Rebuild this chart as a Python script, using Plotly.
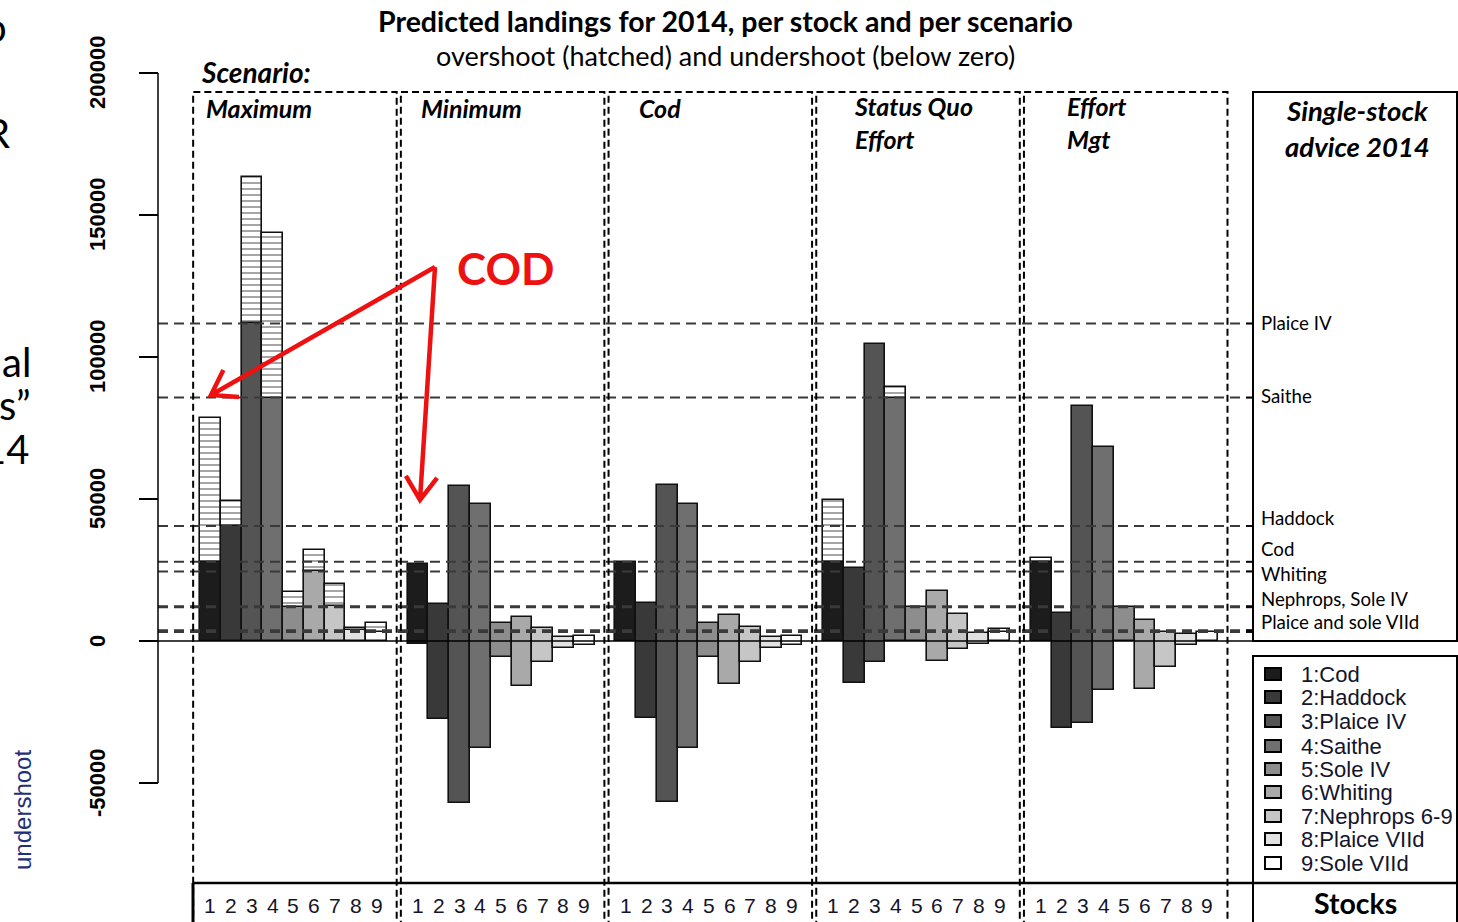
import math
import plotly.graph_objects as go

# ---------------- data (tonnes) ----------------
stock_ids = ["1", "2", "3", "4", "5", "6", "7", "8", "9"]
stock_names = ["Cod", "Haddock", "Plaice IV", "Saithe", "Sole IV", "Whiting",
               "Nephrops 6-9", "Plaice VIId", "Sole VIId"]
stock_grays = ["#1c1c1c", "#393939", "#545454", "#6f6f6f", "#8d8d8d",
               "#a9a9a9", "#c6c6c6", "#e2e2e2", "#ffffff"]

# single-stock advice 2014
advice_2014 = [27900, 40500, 111800, 85700, 11900, 24500, 12200, 3800, 3200]

scenario_names = ["Maximum", "Minimum", "Cod", "Status Quo<br>Effort", "Effort<br>Mgt"]
landings_maximum = [78400, 49400, 163400, 143500, 17300, 32000, 20200, 4600, 6200]
landings_minimum = [27000, 12900, 54600, 48100, 6400, 8600, 4700, 1500, 1900]
landings_cod = [27900, 13400, 55000, 48100, 6300, 9200, 4800, 1500, 1900]
landings_status_quo = [49600, 25800, 104500, 89300, 11900, 17500, 9500, 2800, 4200]
landings_effort_mgt = [29100, 9700, 82900, 68300, 11900, 7500, 3100, 2500, 3200]
scenario_landings = [landings_maximum, landings_minimum, landings_cod,
                     landings_status_quo, landings_effort_mgt]

advice_line_labels = ["Plaice IV", "Saithe", "Haddock", "Cod", "Whiting",
                      "Nephrops, Sole IV", "Plaice and sole VIId"]
y_tick_values = [-50000, 0, 50000, 100000, 150000, 200000]

# ---------------- page geometry ----------------
W, H = 1458, 922
PX_PER_SLOT = 20.77          # one stock slot on the x axis
FIRST_BAR_LEFT = 200         # left edge of first bar
ZERO_PX = 641                # y pixel of zero landings
PX_PER_TONNE = 0.00284

x0 = 0.5 - FIRST_BAR_LEFT / PX_PER_SLOT
x_range = [x0, x0 + W / PX_PER_SLOT]
y_range = [-(H - ZERO_PX) / PX_PER_TONNE, ZERO_PX / PX_PER_TONNE]


def px(x):
    return x / W


def py(y):
    return 1 - y / H


GROUP = 10  # slots per scenario block (9 stocks + gap)

fig = go.Figure()

# landed part (up to advice) plus undershoot below zero, one trace per stock
for i, name in enumerate(stock_names):
    xs, bases, heights = [], [], []
    for g, land in enumerate(scenario_landings):
        v, adv = land[i], advice_2014[i]
        under = max(adv - v, 0)
        xs.append(GROUP * g + i + 1)
        bases.append(-under)
        heights.append(min(v, adv) + under)
    fig.add_trace(go.Bar(
        x=xs, y=heights, base=bases, width=1, name=f"{stock_ids[i]}:{name}",
        marker=dict(color=stock_grays[i], line=dict(color="#111111", width=1.6)),
        showlegend=False, hoverinfo="skip"))

# overshoot above advice, hatched
hx, hb, hh = [], [], []
for g, land in enumerate(scenario_landings):
    for i, v in enumerate(land):
        adv = advice_2014[i]
        if v > adv:
            hx.append(GROUP * g + i + 1)
            hb.append(adv)
            hh.append(v - adv)
fig.add_trace(go.Bar(
    x=hx, y=hh, base=hb, width=1, showlegend=False, hoverinfo="skip",
    marker=dict(color="white", line=dict(color="#111111", width=1.6),
                pattern=dict(shape="-", fgcolor="#111111", bgcolor="white",
                             size=6, solidity=0.25))))

shapes = []
# advice reference lines
for adv in advice_2014:
    shapes.append(dict(type="line", xref="paper", yref="y", x0=px(158), x1=px(1253),
                       y0=adv, y1=adv, layer="above",
                       line=dict(color="#3a3a3a", width=2, dash="10px,6px")))
    shapes.append(dict(type="line", xref="paper", yref="y", x0=px(1246), x1=px(1253),
                       y0=adv, y1=adv, layer="above", line=dict(color="black", width=1.5)))
# zero line
shapes.append(dict(type="line", xref="paper", yref="y", x0=px(139), x1=px(1253),
                   y0=0, y1=0, layer="above", line=dict(color="black", width=1.5)))
# y axis line
shapes.append(dict(type="line", xref="paper", yref="y", x0=px(158), x1=px(158),
                   y0=y_tick_values[0], y1=y_tick_values[-1], layer="above",
                   line=dict(color="black", width=1.5)))
# scenario blocks
for g in range(len(scenario_names)):
    shapes.append(dict(type="rect", xref="x", yref="paper",
                       x0=GROUP * g + 0.17, x1=GROUP * g + 9.97, y0=-0.05, y1=py(92),
                       layer="above", line=dict(color="black", width=2, dash="7px,4px")))
# advice panel, legend panel and bottom strip
shapes += [
    dict(type="rect", xref="paper", yref="paper", x0=px(1253), x1=px(1457),
         y0=py(641), y1=py(92), layer="above", line=dict(color="black", width=2)),
    dict(type="rect", xref="paper", yref="paper", x0=px(1253), x1=px(1457),
         y0=py(883), y1=py(656), layer="above", line=dict(color="black", width=2)),
    dict(type="line", xref="paper", yref="paper", x0=px(193), x1=px(1458),
         y0=py(883), y1=py(883), layer="above", line=dict(color="black", width=2.5)),
    dict(type="line", xref="paper", yref="paper", x0=px(193), x1=px(193),
         y0=py(883), y1=py(922), layer="above", line=dict(color="black", width=3)),
    dict(type="line", xref="paper", yref="paper", x0=px(1253), x1=px(1253),
         y0=py(883), y1=py(922), layer="above", line=dict(color="black", width=2)),
    dict(type="line", xref="paper", yref="paper", x0=px(1457), x1=px(1457),
         y0=py(883), y1=py(922), layer="above", line=dict(color="black", width=2)),
]

# legend swatches
legend_rows = [674, 697, 721, 746, 769, 792, 816, 839, 863]
for i, yy in enumerate(legend_rows):
    shapes.append(dict(type="rect", xref="paper", yref="paper",
                       x0=px(1265), x1=px(1281), y0=py(yy + 6), y1=py(yy - 6),
                       fillcolor=stock_grays[i], layer="above",
                       line=dict(color="black", width=2)))


# red call-out arrows
def arrow_path(tail, tip, arm=30, ang=32):
    dx, dy = tail[0] - tip[0], tail[1] - tip[1]
    n = math.hypot(dx, dy)
    ux, uy = dx / n, dy / n
    pts = []
    for s in (1, -1):
        a = math.radians(ang * s)
        rx = ux * math.cos(a) - uy * math.sin(a)
        ry = ux * math.sin(a) + uy * math.cos(a)
        pts.append((tip[0] + arm * rx, tip[1] + arm * ry))
    f = lambda p: f"{px(p[0])},{py(p[1])}"
    return (f"M{f(tail)} L{f(tip)} M{f(pts[0])} L{f(tip)} L{f(pts[1])}")


for tip in [(211, 395), (420, 500)]:
    shapes.append(dict(type="path", xref="paper", yref="paper", layer="above",
                       path=arrow_path((435, 267), tip, arm=28, ang=34),
                       line=dict(color="#ee1111", width=4.5)))

ann = []


def text(x, y, s, size, family="Lato", color="black", xanchor="left",
         yanchor="middle", angle=0, xref="paper", yref="paper", align="left"):
    ann.append(dict(x=x, y=y, xref=xref, yref=yref, text=s, showarrow=False,
                    xanchor=xanchor, yanchor=yanchor, textangle=angle, align=align,
                    font=dict(family=family, size=size, color=color)))


# titles
text(px(725), py(21), "<b>Predicted landings for 2014, per stock and per scenario</b>", 28.5,
     xanchor="center", align="center")
text(px(725), py(55), "overshoot (hatched) and undershoot (below zero)", 27,
     xanchor="center", align="center")
text(px(199), py(72), "<b><i>Scenario:</i></b>", 28)

# scenario block titles
scen_label_px = [204, 419, 637, 852, 1065]
for g, s in enumerate(scenario_names):
    two = "<br>" in s
    text(px(scen_label_px[g]), py(123 if two else 108), f"<b><i>{s}</i></b>", 25)

text(px(1357), py(129), "<b><i>Single-stock<br>advice 2014</i></b>", 27.5,
     xanchor="center", align="center")

# advice line labels
advice_label_px = [323, 396, 518, 549, 574, 599, 622]
for lab, yy in zip(advice_line_labels, advice_label_px):
    text(px(1259), py(yy), lab, 18.7)

# legend text
for i, yy in enumerate(legend_rows):
    text(px(1299), py(yy), f"{stock_ids[i]}:{stock_names[i]}", 22,
         family="Liberation Sans", color="#14142a")

# stock numbers under every bar
for g in range(len(scenario_names)):
    for i, sid in enumerate(stock_ids):
        text(GROUP * g + i + 1, py(905), sid, 21, family="Liberation Sans",
             color="#14142a", xanchor="center", xref="x")
text(px(1355), py(903), "<b>Stocks</b>", 28.5, xanchor="center", align="center")

# y tick labels
for v in y_tick_values:
    text(px(97), v, f"<b>{v}</b>", 22, family="Liberation Sans",
         xanchor="center", angle=-90, yref="y")

# call-out
text(px(455), py(268), "<b>COD</b>", 44, color="#ee1111")

# slide text at the left edge
text(px(9), py(27), "o", 40, xanchor="right")
text(px(12), py(133), "R", 40, xanchor="right")
text(px(33), py(362), "al", 40, xanchor="right")
text(px(33), py(405), "s\u201d", 40, xanchor="right")
text(px(31), py(449), "14", 40, xanchor="right")
text(px(22), py(810), "undershoot", 24, family="Liberation Sans", color="#1f2f7a",
     xanchor="center", angle=-90)

fig.update_layout(
    width=W, height=H, autosize=False,
    margin=dict(l=0, r=0, t=0, b=0),
    paper_bgcolor="white", plot_bgcolor="white",
    barmode="overlay", bargap=0,
    font=dict(family="Lato", color="black"),
    xaxis=dict(range=x_range, domain=[0, 1], visible=False, fixedrange=True),
    yaxis=dict(range=y_range, domain=[0, 1], anchor="free", position=px(158),
               showgrid=False, zeroline=False, showline=False,
               ticks="outside", ticklen=19, tickwidth=1.5, tickcolor="black",
               tickvals=y_tick_values, showticklabels=False, fixedrange=True),
    shapes=shapes, annotations=ann,
)

fig.write_html("out.html")
